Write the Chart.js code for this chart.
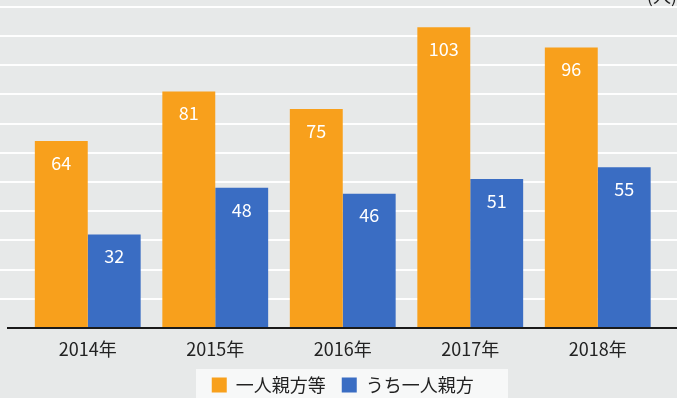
<!DOCTYPE html>
<html><head><meta charset="utf-8">
<script src="https://cdn.jsdelivr.net/npm/chart.js@4.4.0/dist/chart.umd.min.js"></script>
<style>html,body{margin:0;padding:0;background:#e6e8e8;}#wrap{width:677px;height:398px;position:relative;}</style>
</head><body><div id="wrap"><canvas id="c" width="677" height="398"></canvas></div>
<script>
const categories = ["2014年","2015年","2016年","2017年","2018年"];
const seriesNames = ["一人親方等","うち一人親方"];
const totalValues = [64,81,75,103,96];
const soleValues = [32,48,46,51,55];
const gridTicks = [10,20,30,40,50,60,70,80,90,100,110];
const unitLabel = "(人)";

const FONT = "'Noto Sans CJK JP','Noto Sans',sans-serif";
const ORANGE = "#F8A01C";
const BLUE = "#3A6DC3";

const bgPlugin = {
  id:'bg',
  beforeDraw(chart){
    const {ctx, scales:{y}} = chart;
    ctx.save();
    ctx.fillStyle = "#e7e9e9";
    ctx.fillRect(0,0,chart.width,chart.height);
    ctx.strokeStyle = "rgba(255,255,255,0.95)";
    ctx.lineWidth = 2;
    gridTicks.forEach(v=>{
      const py = Math.round(y.getPixelForValue(v));
      ctx.beginPath(); ctx.moveTo(0,py); ctx.lineTo(chart.width,py); ctx.stroke();
    });
    ctx.fillStyle = "#f7f8f8";
    ctx.fillRect(196,369,312,29);
    ctx.fillStyle = "#222";
    ctx.font = "18px " + FONT;
    ctx.textAlign = "right";
    ctx.textBaseline = "middle";
    ctx.fillText(unitLabel, 677, -4);
    ctx.restore();
  },
  afterDatasetsDraw(chart){
    const {ctx, scales:{y}} = chart;
    ctx.save();
    const py = y.getPixelForValue(0);
    ctx.strokeStyle = "#1a1a1a";
    ctx.lineWidth = 2;
    ctx.beginPath(); ctx.moveTo(7,py); ctx.lineTo(chart.width,py); ctx.stroke();
    ctx.fillStyle = "#fff";
    ctx.font = "18px " + FONT;
    ctx.textAlign = "center";
    ctx.textBaseline = "middle";
    chart.data.datasets.forEach((ds,di)=>{
      const meta = chart.getDatasetMeta(di);
      meta.data.forEach((bar,i)=>{
        ctx.fillText(String(ds.data[i]), bar.x, bar.y + 22);
      });
    });
    ctx.restore();
  }
};

new Chart(document.getElementById('c'), {
  type:'bar',
  data:{
    labels: categories,
    datasets:[
      {label: seriesNames[0], data: totalValues, backgroundColor: ORANGE, borderWidth:0},
      {label: seriesNames[1], data: soleValues, backgroundColor: BLUE, borderWidth:0}
    ]
  },
  options:{
    responsive:false,
    animation:false,
    devicePixelRatio:1,
    categoryPercentage:0.83,
    barPercentage:1.0,
    layout:{padding:{left:24,right:15.5,top:0,bottom:-6}},
    plugins:{
      legend:{
        position:'bottom',
        labels:{
          font:{size:18,family:FONT},
          color:'#222',
          boxWidth:15, boxHeight:15,
          padding:16
        }
      },
      tooltip:{enabled:false}
    },
    scales:{
      x:{
        grid:{display:false},
        border:{display:false},
        ticks:{font:{size:18,family:FONT}, color:'#222', padding:2},
        afterFit(scale){ scale.height = 32; }
      },
      y:{
        display:false,
        min:0, max:112.3
      }
    }
  },
  plugins:[bgPlugin]
});
</script>
</body></html>
